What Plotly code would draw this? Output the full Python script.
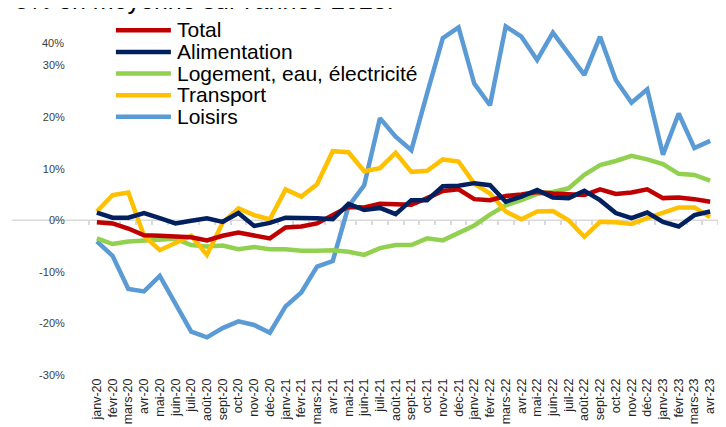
import plotly.graph_objects as go
import numpy as np

months = ["janv-20","févr-20","mars-20","avr-20","mai-20","juin-20","juil-20","août-20","sept-20","oct-20","nov-20","déc-20",
          "janv-21","févr-21","mars-21","avr-21","mai-21","juin-21","juil-21","août-21","sept-21","oct-21","nov-21","déc-21",
          "janv-22","févr-22","mars-22","avr-22","mai-22","juin-22","juil-22","août-22","sept-22","oct-22","nov-22","déc-22",
          "janv-23","févr-23","mars-23","avr-23"]

total = [-0.4,-0.6,-1.6,-2.9,-3.0,-3.2,-3.3,-3.9,-3.0,-2.4,-2.9,-3.5,-1.4,-1.2,-0.6,1.0,2.6,2.5,3.2,3.1,3.0,4.3,5.7,6.0,
         4.1,3.9,4.7,5.0,5.5,5.2,5.1,4.9,6.0,5.1,5.4,6.0,4.3,4.4,4.1,3.6]
alimentation = [1.5,0.5,0.5,1.4,0.4,-0.6,-0.1,0.4,-0.3,1.4,-1.1,-0.5,0.5,0.5,0.4,0.2,3.2,2.0,2.4,1.2,3.9,3.9,6.6,6.7,
                7.2,6.8,3.6,4.6,5.9,4.4,4.3,5.7,3.9,1.4,0.4,1.5,-0.3,-1.2,1.0,1.7]
logement = [-3.5,-4.6,-4.1,-4.0,-3.8,-3.6,-4.8,-5.1,-4.9,-5.6,-5.2,-5.6,-5.6,-5.9,-5.9,-5.8,-6.1,-6.7,-5.4,-4.8,-4.8,-3.5,-3.9,-2.5,
            -1.0,1.1,2.9,3.9,5.1,5.5,6.2,8.8,10.7,11.5,12.5,11.8,10.9,9.0,8.8,7.7]
transport = [1.7,4.9,5.4,-3.0,-5.8,-4.5,-3.0,-6.7,-0.5,2.3,1.0,0.2,6.0,4.6,7.0,13.4,13.2,9.5,10.1,13.1,9.4,9.6,11.8,11.4,
             7.1,5.2,1.7,0.2,1.7,1.8,0.0,-3.2,-0.3,-0.4,-0.7,0.4,1.4,2.5,2.5,0.6]
loisirs = [-4.1,-6.9,-13.3,-13.8,-10.8,-16.0,-21.6,-22.7,-20.9,-19.6,-20.3,-21.8,-16.7,-14.0,-9.0,-7.9,2.7,6.8,19.8,16.2,13.6,24.6,35.3,37.4,
           26.5,22.3,37.6,35.6,31.1,36.4,32.4,28.2,35.6,27.2,22.8,25.4,12.7,20.7,14.0,15.4]

series_names = ["Total", "Alimentation", "Logement, eau, électricité", "Transport", "Loisirs"]
series_values = [total, alimentation, logement, transport, loisirs]
colors = ["#C00000", "#002060", "#92D050", "#FFC000", "#5B9BD5"]

y_ticks = [-30, -20, -10, 0, 10, 20, 30]
y_ticktext = [f"{v}%" for v in y_ticks]

OFF = 8  # page offset of the figure inside the window
W, H = 726 - OFF, 427 - OFF
L, R, T, B = 89.1 - OFF, 8.0, 13.7 - OFF, 51.7
pw, ph = W - L - R, H - T - B

def px_x(x):
    return (x - OFF - L) / pw

def px_y(y):
    return (H - B - (y - OFF)) / ph

FONT = "Arial, Liberation Sans, sans-serif"

fig = go.Figure()
draw_order = [4, 2, 3, 0, 1]
for i in draw_order:
    fig.add_trace(go.Scatter(x=months, y=series_values[i], mode="lines", name=series_names[i],
                             line=dict(color=colors[i], width=4.5), showlegend=False))

shapes = []
annotations = []
shapes.append(dict(type="line", xref="paper", yref="y", x0=px_x(12), x1=1, y0=0, y1=0,
                   line=dict(color="#D9D9D9", width=1.5), layer="below"))
leg_y = [30, 51.7, 73.3, 95, 116.7]
for i, name in enumerate(series_names):
    shapes.append(dict(type="line", xref="paper", yref="paper", x0=px_x(116), x1=px_x(171),
                       y0=px_y(leg_y[i]), y1=px_y(leg_y[i]), line=dict(color=colors[i], width=4.5)))
    annotations.append(dict(text=name, xref="paper", yref="paper", x=px_x(175), y=px_y(leg_y[i] - 0.5),
                            xanchor="left", yanchor="middle", showarrow=False,
                            font=dict(family=FONT, size=21, color="#000000")))
annotations.append(dict(text="40%", xref="paper", yref="paper", x=px_x(66), y=px_y(43),
                        xanchor="right", yanchor="middle", showarrow=False,
                        font=dict(family=FONT, size=11, color="#404040")))
annotations.append(dict(text="5% en moyenne sur l'année 2023.", xref="paper", yref="paper",
                        x=px_x(396), y=px_y(16), xanchor="right", yanchor="bottom", showarrow=False,
                        font=dict(family=FONT, size=25, color="#000000")))

fig.update_layout(
    width=W, height=H,
    margin=dict(l=L, r=R, t=T, b=B, pad=0, autoexpand=False),
    paper_bgcolor="white", plot_bgcolor="white",
    font=dict(family=FONT, color="#404040"),
    shapes=shapes, annotations=annotations,
    xaxis=dict(type="category", categoryorder="array", categoryarray=months, range=[-0.5, 39.5],
               tickmode="linear", tick0=0, dtick=1,
               showgrid=False, zeroline=False, showline=False, ticks="", automargin=False,
               tickangle=-90, tickfont=dict(size=12.5, color="#262626")),
    xaxis2=dict(overlaying="x", anchor="free", position=30/70, range=[-0.5, 39.5], automargin=False,
                showgrid=False, zeroline=False, showline=False, showticklabels=False,
                ticks="outside", ticklen=4, tickcolor="#D9D9D9", tickwidth=1.5,
                tickmode="array", tickvals=list(np.arange(-0.5, 40, 1.0)), layer="below traces"),
    yaxis=dict(range=[-30, 40], tickmode="array", tickvals=y_ticks, ticktext=y_ticktext,
               showgrid=False, zeroline=False, showline=False, automargin=False,
               ticks="outside", ticklen=21, tickcolor="rgba(0,0,0,0)",
               tickfont=dict(size=11, color="#404040")),
)
fig.add_trace(go.Scatter(x=[], y=[], xaxis="x2", showlegend=False, hoverinfo="skip"))

fig.write_html("out.html")
